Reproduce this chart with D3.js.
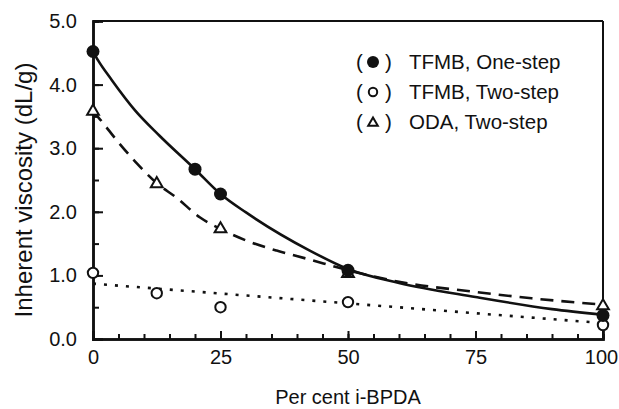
<!DOCTYPE html>
<html>
<head>
<meta charset="utf-8">
<script src="https://cdn.jsdelivr.net/npm/d3@7"></script>
<style>
  body { margin: 0; background: #fff }
  svg text { font-family: Arial, "Liberation Sans", sans-serif; fill: #111 }
</style>
</head>
<body>
<svg id="chart" width="619" height="409"></svg>
<script>
// measured points
var oneStep = [[0, 4.52], [20, 2.67], [25, 2.28], [50, 1.08], [100, 0.37]]
var twoStep = [[0, 1.04], [12.5, 0.72], [25, 0.50], [50, 0.58], [100, 0.22]]
var oda = [[0, 3.58], [12.5, 2.44], [25, 1.73], [50, 1.03], [100, 0.52]]

// fitted curves
var oneStepFit = [[0, 4.52], [1, 4.38], [3.7, 4.07], [8.2, 3.6], [13, 3.2], [20, 2.67], [25, 2.28], [30, 1.99], [42.5, 1.39], [50, 1.1], [60, 0.88], [75, 0.66], [90, 0.47], [100, 0.38]]
var odaFit = [[0, 3.58], [1, 3.49], [4.7, 3.12], [8.6, 2.76], [12.5, 2.45], [16.4, 2.22], [21, 1.91], [25, 1.73], [30, 1.55], [36, 1.39], [42, 1.26], [50, 1.08], [60, 0.9], [75, 0.74], [86, 0.64], [100, 0.54]]
var twoStepFit = [[0, 0.87], [100, 0.25]]

var xTicks = [0, 25, 50, 75, 100]
var yTicks = [0, 1, 2, 3, 4, 5]
var legendLabels = ['TFMB, One-step', 'TFMB, Two-step', 'ODA, Two-step']

var svg = d3.select('#chart')
var plotLeft = 93, plotRight = 603, plotTop = 21, plotBottom = 339

var x = d3.scaleLinear().domain([0, 100]).range([plotLeft, plotRight])
var y = d3.scaleLinear().domain([0, 5]).range([plotBottom, plotTop])

// frame
svg.append('line').attr('x1', plotLeft).attr('x2', plotRight).attr('y1', plotTop).attr('y2', plotTop)
  .attr('stroke', '#111').attr('stroke-width', 2)
svg.append('line').attr('x1', plotRight).attr('x2', plotRight).attr('y1', plotTop).attr('y2', plotBottom)
  .attr('stroke', '#111').attr('stroke-width', 2)

// minor ticks
svg.append('g').attr('transform', 'translate(0,' + plotBottom + ')')
  .call(d3.axisBottom(x).tickValues(d3.range(0, 101, 5)).tickSize(-5).tickFormat(''))
svg.append('g').attr('transform', 'translate(' + plotLeft + ',0)')
  .call(d3.axisLeft(y).tickValues(d3.range(0, 5.01, 0.5)).tickSize(-6).tickFormat(''))

var xAxis = svg.append('g').attr('transform', 'translate(0,' + plotBottom + ')')
  .call(d3.axisBottom(x).tickValues(xTicks).tickSize(-8).tickPadding(20).tickFormat(d3.format('d')))
var yAxis = svg.append('g').attr('transform', 'translate(' + plotLeft + ',0)')
  .call(d3.axisLeft(y).tickValues(yTicks).tickSize(-10).tickPadding(16).tickFormat(d3.format('.1f')))

svg.selectAll('.domain').attr('stroke', '#111').attr('stroke-width', 2.5)
svg.selectAll('.tick line').attr('stroke', '#111').attr('stroke-width', 2)
svg.selectAll('.tick text').attr('font-size', 20).attr('font-family', 'Arial, Liberation Sans, sans-serif').attr('fill', '#111')
xAxis.selectAll('.tick text').attr('dy', '0.25em')
  .attr('dx', function(d){ return d == 100 ? -2 : 0 })
yAxis.selectAll('.tick text').attr('text-anchor', 'end')

// axis titles
svg.append('text').attr('x', 348).attr('y', 404).attr('text-anchor', 'middle')
  .attr('font-size', 20).text('Per cent i-BPDA')
svg.append('text').attr('transform', 'translate(32,190)rotate(-90)').attr('text-anchor', 'middle')
  .attr('font-size', 24).text('Inherent viscosity (dL/g)')

// curves
var line = d3.line().x(function(d){ return x(d[0]) }).y(function(d){ return y(d[1]) }).curve(d3.curveMonotoneX)
svg.append('path').attr('d', line(oneStepFit)).attr('fill', 'none').attr('stroke', '#111').attr('stroke-width', 2.6)
svg.append('path').attr('d', line(odaFit)).attr('fill', 'none').attr('stroke', '#111').attr('stroke-width', 2.6)
  .attr('stroke-dasharray', '13,8')
svg.append('path').attr('d', line(twoStepFit)).attr('fill', 'none').attr('stroke', '#111').attr('stroke-width', 2.6)
  .attr('stroke-dasharray', '3,8')

// markers
var tri = d3.symbol().type(d3.symbolTriangle).size(60)
svg.selectAll('.oda').data(oda).enter().append('path')
  .attr('transform', function(d){ return 'translate(' + x(d[0]) + ',' + y(d[1]) + ')' })
  .attr('d', tri).attr('fill', '#fff').attr('stroke', '#111').attr('stroke-width', 2)
svg.selectAll('.two').data(twoStep).enter().append('circle')
  .attr('cx', function(d){ return x(d[0]) }).attr('cy', function(d){ return y(d[1]) })
  .attr('r', 5.2).attr('fill', '#fff').attr('stroke', '#111').attr('stroke-width', 2)
svg.selectAll('.one').data(oneStep).enter().append('circle')
  .attr('cx', function(d){ return x(d[0]) }).attr('cy', function(d){ return y(d[1]) })
  .attr('r', 6.5).attr('fill', '#111')

// legend
var legend = svg.append('g')
legendLabels.forEach(function(label, i) {
  var ly = 62 + i * 30
  legend.append('text').attr('x', 356).attr('y', ly + 7).attr('font-size', 20.5).text('(')
  legend.append('text').attr('x', 385).attr('y', ly + 7).attr('font-size', 20.5).text(')')
  legend.append('text').attr('x', 409).attr('y', ly + 7).attr('font-size', 20.5).text(label)
  if (i == 0) legend.append('circle').attr('cx', 373).attr('cy', ly).attr('r', 6).attr('fill', '#111')
  else if (i == 1) legend.append('circle').attr('cx', 373).attr('cy', ly).attr('r', 4.2).attr('fill', '#fff').attr('stroke', '#111').attr('stroke-width', 2)
  else legend.append('path').attr('transform', 'translate(373,' + (ly + 1) + ')').attr('d', d3.symbol().type(d3.symbolTriangle).size(40))
    .attr('fill', '#fff').attr('stroke', '#111').attr('stroke-width', 2)
})
</script>
</body>
</html>
